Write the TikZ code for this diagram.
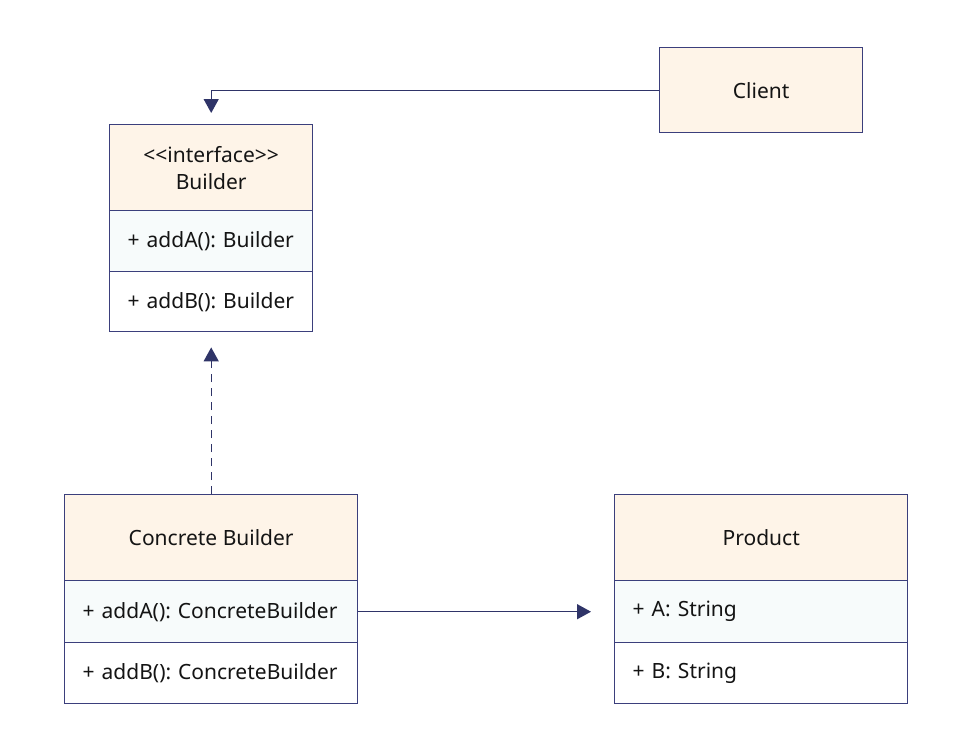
\documentclass[tikz,border=0pt]{standalone}
\usepackage{fontspec}
\setmainfont{Noto Sans}
\frenchspacing
\usetikzlibrary{arrows.meta,calc}
\definecolor{bordc}{HTML}{3B3F7C}
\definecolor{arrc}{HTML}{2F3468}
\definecolor{hdrc}{HTML}{FEF4E8}
\definecolor{rowac}{HTML}{F7FBFB}
\definecolor{txtc}{HTML}{141414}
\tikzset{
  box/.style={draw=bordc, line width=1.4pt, rectangle, anchor=north west, inner sep=0pt, text=txtc,
    font=\fontsize{21}{26}\selectfont},
  hdr/.style={box, fill=hdrc, align=center},
  rowa/.style={box, fill=rowac, align=left, inner xsep=18pt, text width=#1},
  rowb/.style={box, fill=white, align=left, inner xsep=18pt, text width=#1},
  arr/.style={draw=arrc, line width=1.4pt, -{Triangle[length=14pt,width=15pt]}},
  dsh/.style={dash pattern=on 8pt off 6pt}
}
\begin{document}
\begin{tikzpicture}[x=1pt,y=-1pt]
\useasboundingbox (0,0) rectangle (974,732);
\fill[white] (0,0) rectangle (974,732);
% Builder
\node[hdr, minimum width=203, minimum height=86] (bh) at (109,124) {<\kern0pt<interface>\kern0pt>\\[1pt]Builder};
\node[rowa=167pt, minimum height=61] (ba) at (109,210) {+ addA(): Builder};
\node[rowb=167pt, minimum height=60] (bb) at (109,271) {+ addB(): Builder};
% Client
\node[hdr, minimum width=203, minimum height=85] (cl) at (659,47) {Client};
% Concrete Builder
\node[hdr, minimum width=293, minimum height=86] (ch) at (64,494) {Concrete Builder};
\node[rowa=257pt, minimum height=62] (ca) at (64,580) {+ addA(): ConcreteBuilder};
\node[rowb=257pt, minimum height=61] (cb) at (64,642) {+ addB(): ConcreteBuilder};
% Product
\node[hdr, minimum width=293, minimum height=86] (ph) at (614,494) {Product};
\node[rowa=257pt, minimum height=62] (pa) at (614,580) {+ A: String};
\node[rowb=257pt, minimum height=61] (pb) at (614,642) {+ B: String};
% connectors
\coordinate (bt) at ($(bh.north)+(0,-11)$);
\draw[arr] (cl.west) -| (bt);
\coordinate (bu) at ($(bb.south)+(0,15)$);
\draw[arr,dsh] (ch.north) -- (bu);
\coordinate (pt) at ($(pa.west)+(-23,0)$);
\draw[arr] (ca.east) -- (pt);
\end{tikzpicture}
\end{document}
